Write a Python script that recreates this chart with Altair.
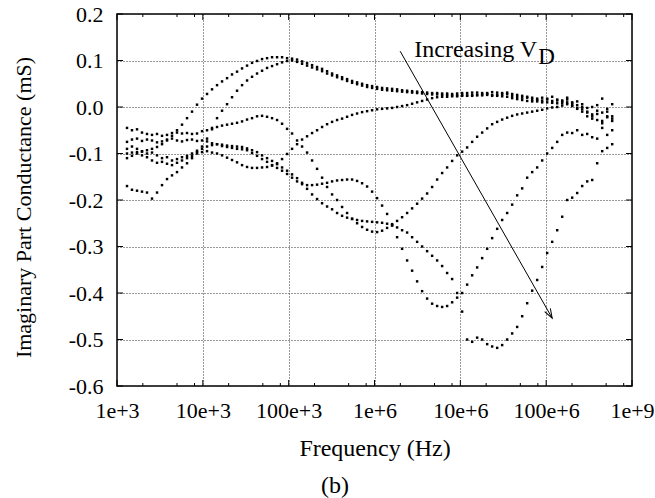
import altair as alt
import pandas as pd

FONT = "Liberation Serif"

# Measurement frequencies (Hz)
FREQ = [1308, 1495, 1711, 1956, 2237, 2558, 2926, 3346, 3826, 4375,
        5003, 5721, 6545, 7483, 8558, 9788, 11195, 12800, 14640, 16740,
        19150, 21890, 25040, 28640, 32750, 37450, 42820, 48980, 56020, 64060,
        73260, 83790, 95810, 109550, 125300, 143300, 163900, 187400, 214300, 245100,
        280300, 320500, 366500, 419200, 479400, 548200, 626900, 716900, 819900, 937600,
        1.072e6, 1.226e6, 1.402e6, 1.604e6, 1.834e6, 2.097e6, 2.399e6, 2.743e6, 3.137e6, 3.587e6,
        4.103e6, 4.692e6, 5.366e6, 6.137e6, 7.018e6, 8.026e6, 9.178e6, 1.050e7, 1.200e7, 1.373e7,
        1.570e7, 1.796e7, 2.054e7, 2.348e7, 2.686e7, 3.071e7, 3.512e7, 4.016e7, 4.593e7, 5.253e7,
        6.007e7, 6.869e7, 7.856e7, 8.984e7, 1.027e8, 1.175e8, 1.344e8, 1.537e8, 1.757e8, 2.009e8,
        2.298e8, 2.628e8, 3.006e8, 3.437e8, 3.930e8, 4.495e8, 5.140e8, 5.878e8]

# Imaginary part conductance (mS) for each bias
S1 = [-0.100, -0.098, -0.097, -0.096, -0.093, -0.090, -0.086, -0.080, -0.072, -0.062,
      -0.050, -0.038, -0.024, -0.010, 0.005, 0.018, 0.028, 0.038, 0.047, 0.055,
      0.062, 0.070, 0.076, 0.083, 0.089, 0.095, 0.099, 0.103, 0.105, 0.107,
      0.107, 0.107, 0.105, 0.104, 0.102, 0.098, 0.094, 0.090, 0.086, 0.082,
      0.077, 0.072, 0.068, 0.064, 0.060, 0.056, 0.053, 0.050, 0.047, 0.045,
      0.043, 0.041, 0.040, 0.039, 0.038, 0.036, 0.035, 0.034, 0.033, 0.032,
      0.031, 0.030, 0.030, 0.029, 0.029, 0.028, 0.029, 0.030, 0.030, 0.031,
      0.031, 0.030, 0.030, 0.032, 0.031, 0.030, 0.031, 0.028, 0.026, 0.024,
      0.020, 0.020, 0.018, 0.020, 0.018, 0.022, 0.016, 0.014, 0.020, 0.010,
      0.012, 0.006, -0.002, 0.000, -0.008, 0.018, -0.020, 0.006]

S2 = [-0.170, -0.178, -0.180, -0.182, -0.184, -0.197, -0.184, -0.168, -0.155, -0.147,
      -0.140, -0.130, -0.121, -0.110, -0.097, -0.085, -0.068, -0.048, -0.024, -0.008,
      0.006, 0.021, 0.035, 0.047, 0.057, 0.065, 0.072, 0.078, 0.084, 0.088,
      0.092, 0.096, 0.099, 0.100, 0.097, 0.093, 0.089, 0.085, 0.081, 0.077,
      0.072, 0.068, 0.064, 0.060, 0.056, 0.052, 0.049, 0.046, 0.043, 0.041,
      0.039, 0.037, 0.036, 0.035, 0.034, 0.033, 0.032, 0.031, 0.030, 0.029,
      0.028, 0.027, 0.027, 0.026, 0.026, 0.025, 0.025, 0.026, 0.025, 0.026,
      0.026, 0.027, 0.028, 0.026, 0.026, 0.027, 0.028, 0.024, 0.022, 0.020,
      0.022, 0.016, 0.015, 0.014, 0.016, 0.013, 0.014, 0.012, 0.016, 0.008,
      0.004, 0.000, -0.010, -0.016, 0.004, -0.012, -0.004, -0.020]

S3 = [-0.110, -0.105, -0.100, -0.104, -0.108, -0.115, -0.120, -0.118, -0.122, -0.125,
      -0.120, -0.115, -0.110, -0.105, -0.100, -0.097, -0.095, -0.098, -0.100, -0.104,
      -0.109, -0.114, -0.119, -0.125, -0.129, -0.131, -0.131, -0.130, -0.129, -0.126,
      -0.121, -0.112, -0.101, -0.090, -0.080, -0.070, -0.063, -0.056, -0.050, -0.043,
      -0.037, -0.032, -0.028, -0.025, -0.021, -0.017, -0.014, -0.011, -0.009, -0.007,
      -0.005, -0.004, -0.003, -0.002, 0.000, 0.002, 0.004, 0.007, 0.010, 0.013,
      0.016, 0.019, 0.021, 0.022, 0.022, 0.023, 0.023, 0.024, 0.024, 0.024,
      0.025, 0.025, 0.026, 0.024, 0.024, 0.023, 0.022, 0.019, 0.017, 0.015,
      0.013, 0.012, 0.012, 0.010, 0.010, 0.009, 0.008, 0.008, 0.010, 0.002,
      -0.004, -0.010, -0.020, -0.025, -0.015, -0.030, -0.010, -0.025]

S4 = [-0.045, -0.050, -0.048, -0.055, -0.058, -0.060, -0.058, -0.062, -0.060, -0.056,
      -0.055, -0.057, -0.056, -0.058, -0.057, -0.052, -0.050, -0.045, -0.043, -0.040,
      -0.038, -0.036, -0.034, -0.031, -0.027, -0.024, -0.020, -0.019, -0.021, -0.024,
      -0.028, -0.036, -0.047, -0.057, -0.072, -0.085, -0.098, -0.115, -0.133, -0.152,
      -0.172, -0.188, -0.200, -0.215, -0.228, -0.240, -0.250, -0.258, -0.264, -0.268,
      -0.269, -0.266, -0.260, -0.252, -0.245, -0.237, -0.228, -0.218, -0.208, -0.197,
      -0.186, -0.172, -0.156, -0.142, -0.130, -0.116, -0.104, -0.096, -0.087, -0.075,
      -0.064, -0.055, -0.046, -0.037, -0.032, -0.027, -0.023, -0.019, -0.016, -0.014,
      -0.012, -0.010, -0.008, -0.006, -0.003, -0.001, 0.000, 0.003, 0.006, 0.004,
      -0.002, -0.005, -0.012, -0.020, -0.028, -0.035, -0.022, -0.030]

S5 = [-0.075, -0.070, -0.068, -0.073, -0.070, -0.072, -0.076, -0.074, -0.070, -0.068,
      -0.072, -0.074, -0.071, -0.070, -0.073, -0.072, -0.074, -0.078, -0.080, -0.084,
      -0.086, -0.088, -0.090, -0.091, -0.093, -0.099, -0.105, -0.112, -0.118, -0.125,
      -0.131, -0.137, -0.144, -0.152, -0.160, -0.166, -0.168, -0.168, -0.167, -0.165,
      -0.163, -0.160, -0.158, -0.157, -0.156, -0.156, -0.159, -0.164, -0.171, -0.182,
      -0.196, -0.212, -0.230, -0.255, -0.280, -0.305, -0.330, -0.352, -0.375, -0.396,
      -0.412, -0.423, -0.428, -0.430, -0.428, -0.420, -0.410, -0.400, -0.382, -0.362,
      -0.345, -0.325, -0.305, -0.282, -0.262, -0.243, -0.228, -0.210, -0.190, -0.175,
      -0.152, -0.140, -0.130, -0.115, -0.100, -0.088, -0.075, -0.060, -0.055, -0.056,
      -0.050, -0.060, -0.058, -0.065, -0.068, -0.045, -0.060, -0.050]

S6 = [-0.090, -0.085, -0.090, -0.095, -0.100, -0.098, -0.104, -0.110, -0.108, -0.115,
      -0.112, -0.108, -0.105, -0.100, -0.094, -0.090, -0.085, -0.082, -0.080, -0.081,
      -0.083, -0.084, -0.085, -0.086, -0.089, -0.093, -0.097, -0.104, -0.110, -0.116,
      -0.123, -0.130, -0.137, -0.145, -0.153, -0.163, -0.176, -0.188, -0.198, -0.207,
      -0.214, -0.220, -0.228, -0.234, -0.238, -0.241, -0.243, -0.245, -0.246, -0.247,
      -0.248, -0.249, -0.251, -0.254, -0.259, -0.265, -0.270, -0.280, -0.290, -0.300,
      -0.310, -0.320, -0.330, -0.342, -0.357, -0.370, -0.400, -0.440, -0.500, -0.505,
      -0.496, -0.500, -0.510, -0.515, -0.518, -0.512, -0.500, -0.487, -0.473, -0.450,
      -0.422, -0.395, -0.372, -0.344, -0.314, -0.290, -0.265, -0.236, -0.200, -0.195,
      -0.185, -0.170, -0.160, -0.157, -0.121, -0.095, -0.088, -0.080]

SERIES = {"V1": S1, "V2": S2, "V3": S3, "V4": S4, "V5": S5, "V6": S6}

X_MAJOR = [1e3, 1e4, 1e5, 1e6, 1e7, 1e8, 1e9]
X_LABELS = ["1e+3", "10e+3", "100e+3", "1e+6", "10e+6", "100e+6", "1e+9"]
X_MINOR = [2e3, 5e3, 8e3, 2e4, 5e4, 8e4, 2e5, 5e5, 8e5,
           2e6, 5e6, 8e6, 2e7, 5e7, 8e7, 2e8, 5e8, 8e8]
Y_MAJOR = [-0.6, -0.5, -0.4, -0.3, -0.2, -0.1, 0.0, 0.1, 0.2]

ARROW_F = [1.99e6, 1.175e8]
ARROW_G = [0.120, -0.454]
ANNO_F = [7.85e7]
ANNO_G = [0.1075]

rows = []
for name, vals in SERIES.items():
    for f, g in zip(FREQ, vals):
        rows.append({"f": f, "g": g, "c": name})
df = pd.DataFrame(rows)

W, H = 515, 372
xs = alt.Scale(type="log", domain=[1e3, 1e9], nice=False)
ys = alt.Scale(domain=[-0.6, 0.2], nice=False, zero=False)

x_label_expr = "[" + ",".join("'%s'" % s for s in X_LABELS) + "][round(log(datum.value)/LN10) - 3]"
y_label_expr = "datum.value < -0.0001 ? '-' + format(-datum.value, '.1f') : format(abs(datum.value), '.1f')"

X_AXIS = alt.Axis(values=X_MAJOR, labelExpr=x_label_expr, title="Frequency (Hz)",
                  labelPadding=14, labelFlush=False, titleY=69,
                  titleBaseline="alphabetic", titleFontSize=24)
Y_AXIS = alt.Axis(values=Y_MAJOR, labelExpr=y_label_expr,
                  title="Imaginary Part Conductance (mS)",
                  labelPadding=14, titleX=-87, titleY=193, titleAngle=270,
                  titleBaseline="alphabetic", titleFontSize=22)


def X(field="f"):
    return alt.X(field + ":Q", scale=xs, axis=X_AXIS)


def Y(field="g"):
    return alt.Y(field + ":Q", scale=ys, axis=Y_AXIS)


points = alt.Chart(df).mark_square(size=6, color="black", opacity=1).encode(
    x=X(), y=Y(), detail="c:N")

df_xmaj = pd.DataFrame({"f": X_MAJOR})
df_xmin = pd.DataFrame({"f": X_MINOR})
df_ymaj = pd.DataFrame({"g": Y_MAJOR})


def xtick(d, y0, y1):
    return alt.Chart(d).mark_rule(color="black", strokeWidth=1).encode(
        x=X(), y=alt.value(y0), y2=alt.value(y1))


def ytick(d, x0, x1):
    return alt.Chart(d).mark_rule(color="black", strokeWidth=1).encode(
        y=Y(), x=alt.value(x0), x2=alt.value(x1))


ticks = [
    xtick(df_xmaj, H, H - 6), xtick(df_xmaj, 0, 6),
    xtick(df_xmin, H, H - 3), xtick(df_xmin, 0, 3),
    ytick(df_ymaj, 0, 6), ytick(df_ymaj, W, W - 6),
]

df_arrow = pd.DataFrame({"f": [ARROW_F[0]], "g": [ARROW_G[0]],
                         "f2": [ARROW_F[1]], "g2": [ARROW_G[1]]})
arrow_line = alt.Chart(df_arrow).mark_rule(color="black", strokeWidth=1).encode(
    x=X(), y=Y(), x2="f2:Q", y2="g2:Q")

df_head = pd.DataFrame({"f": [ARROW_F[1]], "g": [ARROW_G[1]]})
arrow_head = alt.Chart(df_head).mark_point(
    shape="M-0.35,-1L0,0L0.35,-1", filled=False, stroke="black", strokeWidth=1,
    size=350, angle=330, opacity=1).encode(x=X(), y=Y())

df_anno = pd.DataFrame({"f": ANNO_F, "g": ANNO_G, "t": ["Increasing V"], "s": ["D"]})
anno_main = alt.Chart(df_anno).mark_text(
    font=FONT, fontSize=24, align="right", baseline="alphabetic", color="black").encode(
    x=X(), y=Y(), text="t:N")
anno_sub = alt.Chart(df_anno).mark_text(
    font=FONT, fontSize=23, align="left", baseline="alphabetic", color="black",
    dx=1, dy=7).encode(x=X(), y=Y(), text="s:N")

caption = alt.Chart(pd.DataFrame({"t": ["(b)"]})).mark_text(
    font=FONT, fontSize=24, align="center", baseline="alphabetic", color="black").encode(
    x=alt.value(218), y=alt.value(479), text="t:N")

chart = alt.layer(points, *ticks, arrow_line, arrow_head, anno_main, anno_sub, caption).properties(
    width=W, height=H,
    autosize=alt.AutoSizeParams(type="none"),
    padding={"left": 117, "top": 14, "right": 23, "bottom": 112},
    background="white",
).configure(font=FONT).configure_view(
    stroke="black", strokeWidth=1.5
).configure_axis(
    grid=True, gridDash=[1, 2], gridColor="#333333", gridWidth=1,
    ticks=False, tickSize=0, domain=False,
    labelFont=FONT, labelFontSize=22, labelColor="black",
    titleFont=FONT, titleFontWeight="normal",
    titleColor="black", labelOverlap=False,
)

chart.save("out.html", embed_options={"renderer": "svg", "actions": False})
